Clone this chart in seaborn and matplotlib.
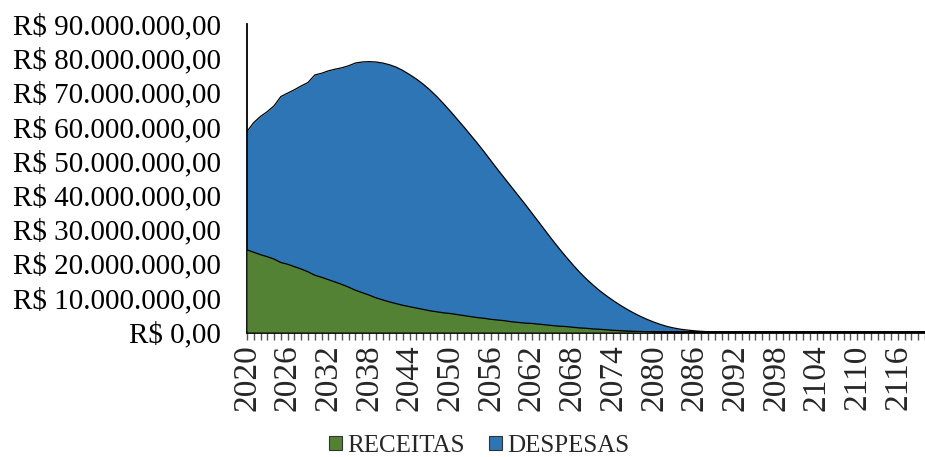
import matplotlib
matplotlib.use("Agg")
import matplotlib.pyplot as plt
import matplotlib.ticker as mticker
from matplotlib.patches import Patch
import numpy as np
import seaborn as sns

# anos 2020..2120, valores em milhoes de R$
anos = list(range(2020, 2121))

receitas = [24.0, 23.3, 22.6, 22.0, 21.3, 20.3, 19.8, 19.1, 18.4, 17.6,
            16.6, 16.0, 15.3, 14.6, 13.9, 13.1, 12.2, 11.5, 10.8, 10.0,
            9.4, 8.8, 8.3, 7.8, 7.4, 7.0, 6.6, 6.2, 5.9, 5.6,
            5.4, 5.1, 4.8, 4.5, 4.2, 4.0, 3.7, 3.5, 3.3, 3.0,
            2.8, 2.6, 2.5, 2.3, 2.1, 1.9, 1.7, 1.6, 1.4, 1.2,
            1.1, 0.9, 0.8, 0.65, 0.5, 0.4, 0.3, 0.2, 0.15, 0.1,
            0.05, 0, 0, 0, 0, 0, 0, 0, 0, 0,
            0, 0, 0, 0, 0, 0, 0, 0, 0, 0,
            0, 0, 0, 0, 0, 0, 0, 0, 0, 0,
            0, 0, 0, 0, 0, 0, 0, 0, 0, 0,
            0]

despesas = [58.6, 61.2, 63.0, 64.4, 66.1, 68.8, 69.8, 70.8, 71.9, 72.9,
            75.1, 75.6, 76.3, 76.8, 77.2, 77.8, 78.6, 78.9, 79.0, 78.9,
            78.6, 78.1, 77.4, 76.4, 75.2, 73.9, 72.4, 70.7, 68.8, 66.7,
            64.5, 62.2, 59.9, 57.5, 55.1, 52.6, 50.0, 47.4, 44.9, 42.4,
            39.9, 37.4, 34.8, 32.2, 29.6, 27.0, 24.5, 22.1, 19.8, 17.6,
            15.6, 13.8, 12.1, 10.6, 9.2, 7.9, 6.7, 5.6, 4.6, 3.7,
            2.9, 2.2, 1.6, 1.15, 0.8, 0.55, 0.35, 0.2, 0.1, 0.05,
            0.02, 0, 0, 0, 0, 0, 0, 0, 0, 0,
            0, 0, 0, 0, 0, 0, 0, 0, 0, 0,
            0, 0, 0, 0, 0, 0, 0, 0, 0, 0,
            0]

rotulos_x = list(range(2020, 2117, 6))

cor_rec = "#548235"
cor_desp = "#2E75B6"

sns.set_style("white")
plt.rcParams["font.family"] = ["Liberation Serif", "DejaVu Serif"]

rec = np.array(receitas) * 1e6
desp = np.array(despesas) * 1e6

fig = plt.figure(figsize=(9.25, 4.57), dpi=100)
ax = fig.add_axes([0.267, 0.2735, 0.733, 0.674])

ax.fill_between(anos, 0, desp, color=cor_desp, lw=0, zorder=1)
sns.lineplot(x=anos, y=desp, ax=ax, color="black", lw=0.9, zorder=2)
ax.fill_between(anos, 0, rec, color=cor_rec, lw=0, zorder=3)
sns.lineplot(x=anos, y=rec, ax=ax, color="black", lw=0.9, zorder=4)

ax.set_xlim(2020, 2120)
ax.set_ylim(0, 90e6)

def fmt(v, pos):
    s = f"{v:,.2f}".replace(",", "X").replace(".", ",").replace("X", ".")
    return "R$ " + s

ax.yaxis.set_major_locator(mticker.MultipleLocator(10e6))
ax.yaxis.set_major_formatter(mticker.FuncFormatter(fmt))
ax.tick_params(axis="y", length=0, labelsize=21, pad=19, colors="black")

ax.set_xticks(rotulos_x)
ax.set_xticklabels([str(a) for a in rotulos_x], rotation=90, fontsize=24)
ax.set_xticks(anos, minor=True)
ax.tick_params(axis="x", which="both", direction="out", length=6, width=1,
               color="#555555", bottom=True, pad=3)

for s in ["top", "right"]:
    ax.spines[s].set_visible(False)
ax.spines["left"].set_color("black")
ax.spines["left"].set_linewidth(1.3)
ax.spines["bottom"].set_color("black")
ax.spines["bottom"].set_linewidth(2)
ax.set_xlabel("")
ax.set_ylabel("")

handles = [Patch(facecolor=cor_rec, edgecolor="#333333", lw=0.8, label="RECEITAS"),
           Patch(facecolor=cor_desp, edgecolor="#333333", lw=0.8, label="DESPESAS")]
fig.legend(handles=handles, loc="center", bbox_to_anchor=(0.518, 0.024), ncol=2,
           frameon=False, fontsize=18, handlelength=0.5, handleheight=0.5,
           handletextpad=0.2, columnspacing=1.0)

fig.savefig("out.png", dpi=100)
